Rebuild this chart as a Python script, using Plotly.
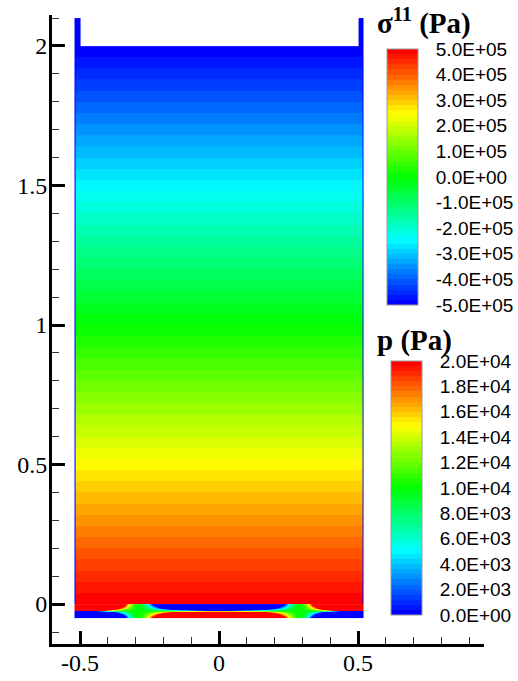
import numpy as np
import plotly.graph_objects as go

# ---------------- data ----------------
x_tick_vals = [-0.5, 0.0, 0.5]
x_tick_text = ["-0.5", "0", "0.5"]
y_tick_vals = [0.0, 0.5, 1.0, 1.5, 2.0]
y_tick_text = ["0", "0.5", "1", "1.5", "2"]
x_minor_vals = [-0.6, -0.4, -0.3, -0.2, -0.1, 0.1, 0.2, 0.3, 0.4, 0.6, 0.7, 0.8, 0.9]
y_minor_vals = [-0.1, 0.1, 0.2, 0.3, 0.4, 0.6, 0.7, 0.8, 0.9,
                1.1, 1.2, 1.3, 1.4, 1.6, 1.7, 1.8, 1.9, 2.1]

sigma_tick_vals = [5e5, 4e5, 3e5, 2e5, 1e5, 0.0, -1e5, -2e5, -3e5, -4e5, -5e5]
sigma_tick_text = ["5.0E+05", "4.0E+05", "3.0E+05", "2.0E+05", "1.0E+05", "0.0E+00",
                   "-1.0E+05", "-2.0E+05", "-3.0E+05", "-4.0E+05", "-5.0E+05"]
p_tick_vals = [2.0e4, 1.8e4, 1.6e4, 1.4e4, 1.2e4, 1.0e4, 8.0e3, 6.0e3, 4.0e3, 2.0e3, 0.0]
p_tick_text = ["2.0E+04", "1.8E+04", "1.6E+04", "1.4E+04", "1.2E+04", "1.0E+04",
               "8.0E+03", "6.0E+03", "4.0E+03", "2.0E+03", "0.0E+00"]
n_levels = 50

# model geometry (m)
tank_half_width = 0.5
wall_thickness = 0.02
wall_skin = 0.005
water_depth = 2.0
wall_top = 2.1
plate_thickness = 0.05

# hydrostatic water pressure (Pa)
p_surface = 0.0
p_bed = 2.0e4

# bending stress sigma11 in the bottom plate
sigma_zero_x = 0.29       # x where sigma11 changes sign
sigma_gradient = 2.0e8    # Pa per m of distance from the neutral axis at mid-span

# ---------------- colours ----------------
rainbow_pos = [0.0, 0.25, 0.5, 0.75, 1.0]
rainbow_rgb = [(0, 0, 255), (0, 255, 255), (0, 255, 0), (255, 255, 0), (255, 0, 0)]


def rainbow(t):
    r = np.interp(t, rainbow_pos, [c[0] for c in rainbow_rgb])
    g = np.interp(t, rainbow_pos, [c[1] for c in rainbow_rgb])
    b = np.interp(t, rainbow_pos, [c[2] for c in rainbow_rgb])
    return f"rgb({int(round(r))},{int(round(g))},{int(round(b))})"


def banded(n):
    cs = []
    for i in range(n):
        c = rainbow(i / (n - 1))
        cs.append([i / n, c])
        cs.append([(i + 1) / n, c])
    return cs


# ---------------- fields ----------------
hw, wt = tank_half_width, wall_thickness
# water + walls: x edges of columns
xw_edges = [-hw - wt, -hw - wt + wall_skin, -hw, hw, hw + wt - wall_skin, hw + wt]
yw_edges = np.linspace(0.0, wall_top, 1051)
yw_c = 0.5 * (yw_edges[1:] + yw_edges[:-1])
p_col = p_bed + (p_surface - p_bed) * yw_c / water_depth
Zp = np.tile(p_col[:, None], (1, 5))
Zp[:, 0] = p_surface
Zp[:, 4] = p_surface
Zp[yw_c > water_depth, 2] = np.nan

# bottom plate
xs_edges = np.linspace(-hw - wt, hw + wt, 521)
ys_edges = np.linspace(-plate_thickness, 0.0, 51)
xs_c = 0.5 * (xs_edges[1:] + xs_edges[:-1])
ys_c = 0.5 * (ys_edges[1:] + ys_edges[:-1])
u = (xs_c ** 2 - sigma_zero_x ** 2) / sigma_zero_x ** 2
g = np.sign(u) * u ** 2
Zs = sigma_gradient * g[None, :] * (ys_c[:, None] + plate_thickness / 2)

# ---------------- layout geometry (pixels) ----------------
W, H = 518, 681
ML, MR, MT, MB = 52, 34, 15, 37
PW, PH = W - ML - MR, H - MT - MB


def fx(px):
    return (px - ML) / PW


def fy(py):
    return (H - MB - py) / PH


fig = go.Figure()
fig.add_trace(go.Heatmap(x=xw_edges, y=yw_edges, z=Zp, coloraxis="coloraxis2",
                         hoverinfo="skip"))
fig.add_trace(go.Heatmap(x=xs_edges, y=ys_edges, z=Zs, coloraxis="coloraxis",
                         hoverinfo="skip"))

cb_font = dict(family="Liberation Sans, Arial", size=19, color="black")
ax_font = dict(family="Liberation Serif, Times New Roman", size=24, color="black")
title_font = dict(family="Liberation Serif, Times New Roman", size=29, color="black")

fig.update_layout(
    template="none",
    width=W, height=H, autosize=False,
    margin=dict(l=ML, r=MR, t=MT, b=MB, pad=0, autoexpand=False),
    paper_bgcolor="white", plot_bgcolor="white",
    showlegend=False,
    coloraxis=dict(
        colorscale=banded(n_levels), cmin=-5e5, cmax=5e5,
        colorbar=dict(x=fx(387), xanchor="left", xpad=0,
                      y=fy(49), yanchor="top", ypad=0,
                      len=256, lenmode="pixels", thickness=31,
                      outlinewidth=1, outlinecolor="#999999",
                      tickmode="array", tickvals=sigma_tick_vals, ticktext=sigma_tick_text,
                      ticks="outside", ticklen=14, tickcolor="rgba(0,0,0,0)",
                      tickfont=cb_font),
    ),
    coloraxis2=dict(
        colorscale=banded(n_levels), cmin=0, cmax=2e4,
        colorbar=dict(x=fx(391), xanchor="left", xpad=0,
                      y=fy(361), yanchor="top", ypad=0,
                      len=254, lenmode="pixels", thickness=31,
                      outlinewidth=1, outlinecolor="#999999",
                      tickmode="array", tickvals=p_tick_vals, ticktext=p_tick_text,
                      ticks="outside", ticklen=14, tickcolor="rgba(0,0,0,0)",
                      tickfont=cb_font),
    ),
    xaxis=dict(range=[-0.601, 0.953], showgrid=False, zeroline=False,
               showline=True, linecolor="black", linewidth=3, automargin=False,
               tickmode="array", tickvals=x_tick_vals, ticktext=x_tick_text,
               ticks="inside", ticklen=13, tickwidth=3, tickcolor="black",
               tickfont=ax_font, ticklabelstandoff=-5,
               minor=dict(tickmode="array", tickvals=x_minor_vals, ticks="inside",
                          ticklen=7, tickwidth=1, tickcolor="#333333")),
    yaxis=dict(range=[-0.143, 2.111], showgrid=False, zeroline=False,
               showline=True, linecolor="black", linewidth=3, automargin=False,
               tickmode="array", tickvals=y_tick_vals, ticktext=y_tick_text,
               ticks="inside", ticklen=13, tickwidth=3, tickcolor="black",
               tickfont=ax_font, ticklabelstandoff=-3,
               minor=dict(tickmode="array", tickvals=y_minor_vals, ticks="inside",
                          ticklen=7, tickwidth=1, tickcolor="#333333")),
    annotations=[
        dict(xref="paper", yref="paper", x=fx(375), y=fy(21), xanchor="left", yanchor="middle",
             text="<b>σ<sup>11</sup> (Pa)</b>", showarrow=False, font=title_font),
        dict(xref="paper", yref="paper", x=fx(375), y=fy(340), xanchor="left", yanchor="middle",
             text="<b>p (Pa)</b>", showarrow=False, font=title_font),
    ],
)

fig.write_html("out.html", config={"displayModeBar": False},
               post_script="document.body.style.margin='0';")
